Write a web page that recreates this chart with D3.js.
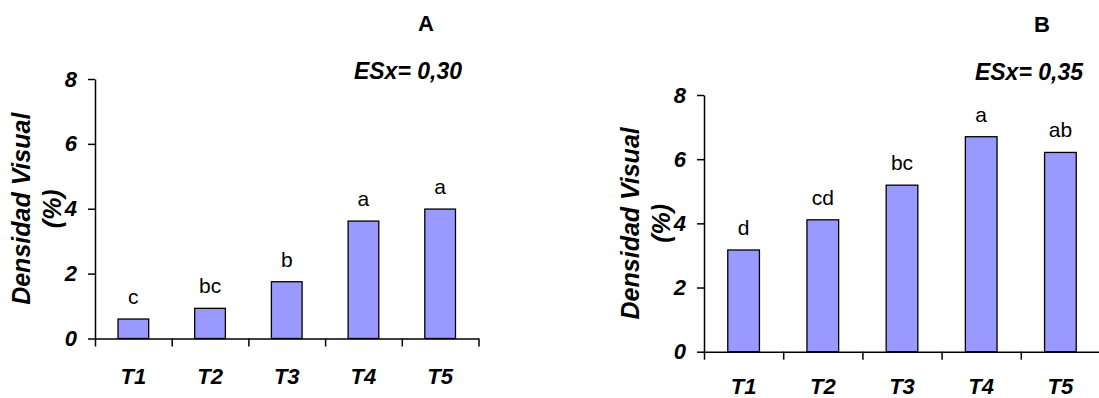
<!DOCTYPE html>
<html>
<head>
<meta charset="utf-8">
<script src="https://cdn.jsdelivr.net/npm/d3@7"></script>
<style>
    body { margin: 0; background: #fff; }
    svg { display: block; font-family: "Liberation Sans", Arial, sans-serif; }
    .bolditalic { font-weight: bold; font-style: italic; }
</style>
</head>
<body>
<div id="vis"></div>
<script>

// Data ----------------------------------------------------------------------

const CATEGORIES = ["T1", "T2", "T3", "T4", "T5"];
const Y_TICKS = [0, 2, 4, 6, 8];
const Y_MAX = 8;

const VALUES_A = [0.60, 0.93, 1.75, 3.62, 3.99];
const LETTERS_A = ["c", "bc", "b", "a", "a"];

const VALUES_B = [3.17, 4.11, 5.19, 6.70, 6.21];
const LETTERS_B = ["d", "cd", "bc", "a", "ab"];

const PANEL_NAMES = ["A", "B"];
const ESX_LABELS = ["ESx= 0,30", "ESx= 0,35"];
const AXIS_TITLE = ["Densidad Visual", "(%)"];

// Setup ---------------------------------------------------------------------

const svg = d3.select("#vis")
    .append("svg")
    .attr("width", 1099)
    .attr("height", 398);

buildChart(svg, {
    values: VALUES_A, letters: LETTERS_A,
    name: PANEL_NAMES[0], esx: ESX_LABELS[0],
    left: 95, right: 478.5, top: 79, bottom: 338.5,
    titleX: 30, nameX: 426, nameY: 31, esxX: 462, esxY: 79,
    catY: 384
});

buildChart(svg, {
    values: VALUES_B, letters: LETTERS_B,
    name: PANEL_NAMES[1], esx: ESX_LABELS[1],
    left: 704, right: 1100, top: 95, bottom: 351.7,
    titleX: 639, nameX: 1042, nameY: 31.5, esxX: 1083, esxY: 80,
    catY: 394
});

// Chart building ------------------------------------------------------------

function buildChart(svg, config) {

    const g = svg.append("g");

    const xscale = d3.scaleBand()
        .domain(CATEGORIES)
        .range([config.left, config.right])
        .paddingInner(0.6)
        .paddingOuter(0.3);

    // boundaries between categories, for the tick marks
    const xindex = d3.scaleLinear()
        .domain([0, CATEGORIES.length])
        .range([config.left, config.right]);

    const yscale = d3.scaleLinear()
        .domain([0, Y_MAX])
        .range([config.bottom, config.top]);

    // Bars
    g.selectAll(".bar")
        .data(config.values)
        .enter()
        .append("rect")
        .attr("class", "bar")
        .attr("x", (d, i) => xscale(CATEGORIES[i]))
        .attr("y", d => yscale(d))
        .attr("width", xscale.bandwidth())
        .attr("height", d => yscale(0) - yscale(d))
        .attr("fill", "#9999ff")
        .attr("stroke", "#000")
        .attr("stroke-width", 1.3);

    // Letters above bars
    g.selectAll(".letter")
        .data(config.values)
        .enter()
        .append("text")
        .attr("class", "letter")
        .attr("x", (d, i) => xscale(CATEGORIES[i]) + xscale.bandwidth() / 2)
        .attr("y", d => yscale(d) - 15)
        .attr("text-anchor", "middle")
        .style("font-size", "21px")
        .text((d, i) => config.letters[i]);

    // Y axis
    const yaxis = g.append("g")
        .attr("transform", `translate(${config.left},0)`)
        .call(d3.axisLeft(yscale)
            .tickValues(Y_TICKS)
            .tickSize(7)
            .tickSizeOuter(0)
            .tickPadding(11)
            .tickFormat(d3.format("d")));

    yaxis.selectAll("text")
        .attr("class", "bolditalic")
        .attr("fill", "#000")
        .style("font-size", "22px")
        .style("font-family", "'Liberation Sans', Arial, sans-serif");

    // X axis
    g.append("g")
        .attr("transform", `translate(0,${config.bottom})`)
        .call(d3.axisBottom(xindex)
            .tickValues(d3.range(CATEGORIES.length + 1))
            .tickSize(8)
            .tickSizeOuter(0)
            .tickFormat(""));

    g.selectAll(".domain, .tick line")
        .attr("stroke", "#000")
        .attr("stroke-width", 1.5);

    // Category labels
    g.selectAll(".cat")
        .data(CATEGORIES)
        .enter()
        .append("text")
        .attr("class", "cat bolditalic")
        .attr("x", d => xscale(d) + xscale.bandwidth() / 2)
        .attr("y", config.catY)
        .attr("text-anchor", "middle")
        .style("font-size", "22px")
        .text(d => d);

    // Axis title, two lines
    const midY = (config.top + config.bottom) / 2;
    AXIS_TITLE.forEach((t, i) => {
        g.append("text")
            .attr("class", "bolditalic")
            .attr("transform",
                `translate(${config.titleX + i * 31},${midY}) rotate(-90)`)
            .attr("text-anchor", "middle")
            .style("font-size", "25px")
            .text(t);
    });

    // Panel name and ESx
    g.append("text")
        .attr("x", config.nameX)
        .attr("y", config.nameY)
        .attr("text-anchor", "middle")
        .style("font-weight", "bold")
        .style("font-size", "22px")
        .text(config.name);

    g.append("text")
        .attr("class", "bolditalic")
        .attr("x", config.esxX)
        .attr("y", config.esxY)
        .attr("text-anchor", "end")
        .style("font-size", "23px")
        .text(config.esx);
}

</script>
</body>
</html>
